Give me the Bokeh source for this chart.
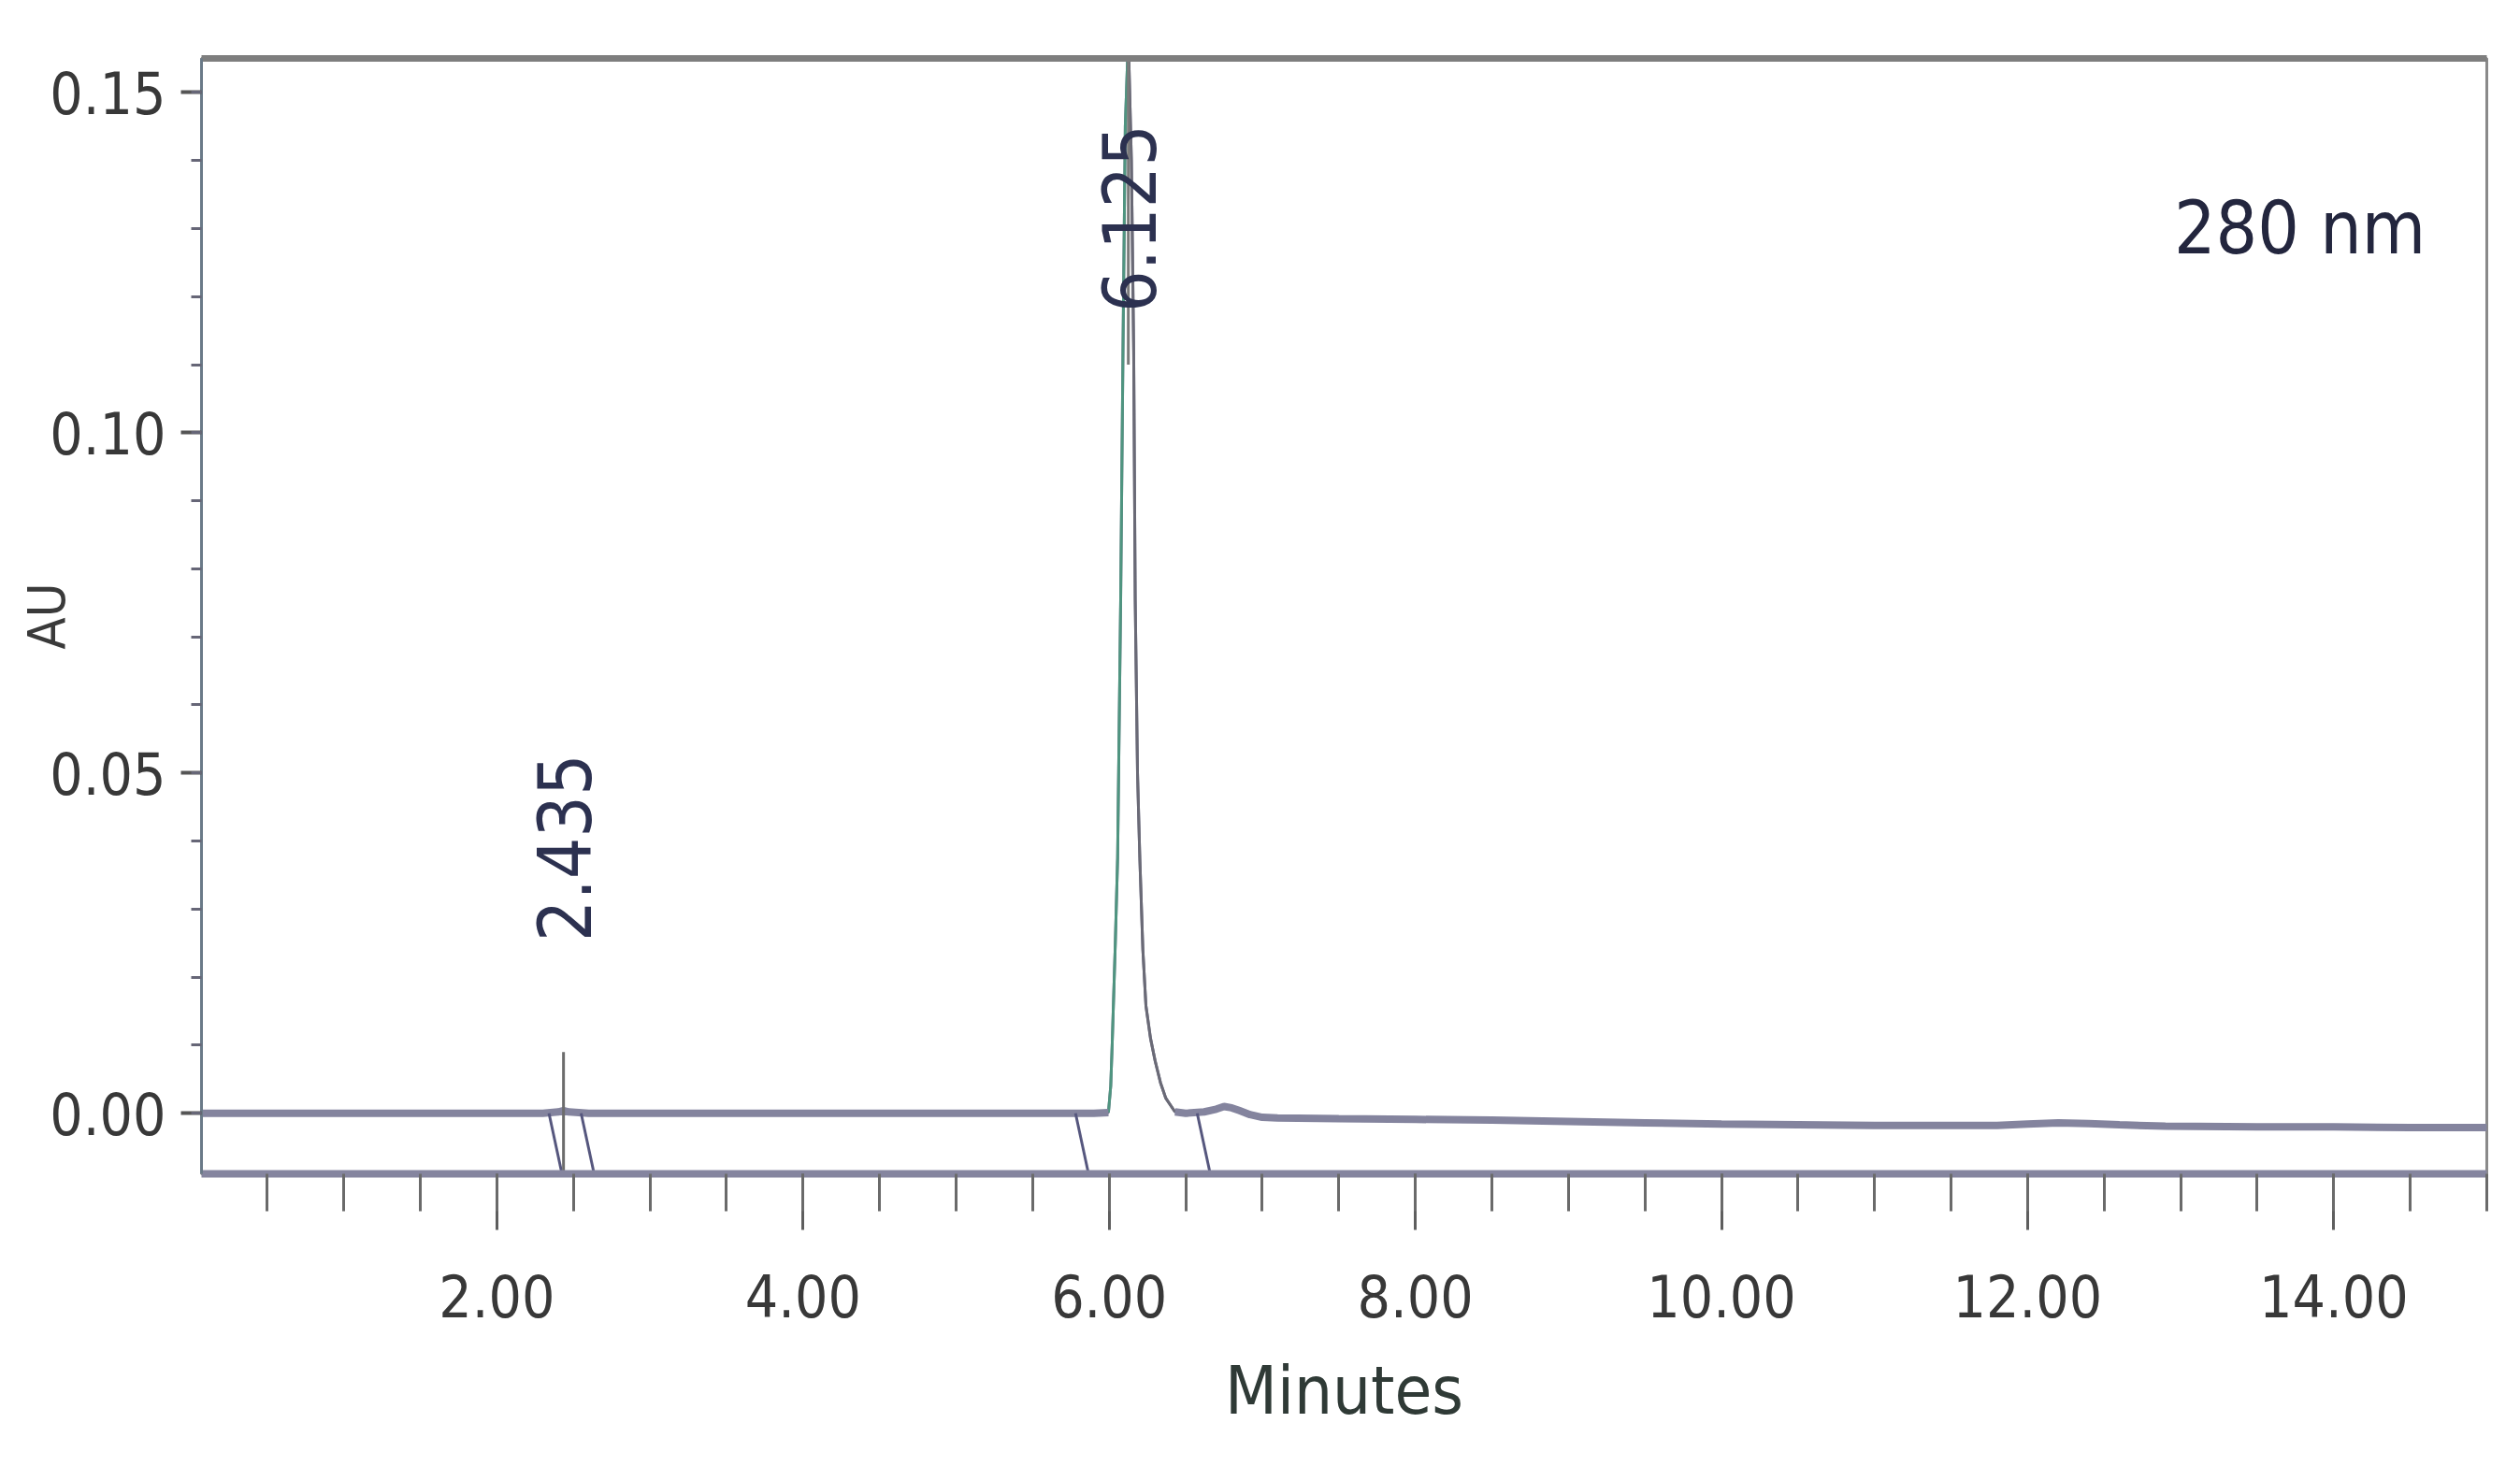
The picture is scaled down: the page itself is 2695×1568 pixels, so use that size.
import numpy as np
from bokeh.plotting import figure
from bokeh.models import Range1d, FixedTicker, NumeralTickFormatter, LinearAxis, Label
from bokeh.embed import file_html
from bokeh.resources import INLINE

# ---------------- data ----------------
time_min = [0.07, 0.50, 1.00, 1.50, 2.00, 2.30, 2.40, 2.435, 2.47, 2.60,
            3.00, 3.50, 4.00, 4.50, 5.00, 5.50, 5.90, 5.995, 6.010, 6.020,
            6.040, 6.055, 6.075, 6.090, 6.105, 6.125, 6.145, 6.160, 6.170, 6.185,
            6.200, 6.220, 6.240, 6.270, 6.300, 6.335, 6.370, 6.430, 6.500, 6.620,
            6.700, 6.750, 6.800, 6.850, 6.920, 7.000, 7.100, 7.500, 8.000, 8.500,
            9.000, 9.500, 10.00, 10.50, 11.00, 11.50, 11.80, 12.00, 12.20, 12.40,
            12.60, 12.90, 13.50, 14.00, 14.50, 15.00]
absorbance = [0.0000, 0.0000, 0.0000, 0.0000, 0.0000, 0.0000, 0.0002, 0.0004, 0.0002, 0.0000,
              0.0000, 0.0000, 0.0000, 0.0000, 0.0000, 0.0000, 0.0000, 0.0001, 0.0040, 0.0104,
              0.0250, 0.0375, 0.0755, 0.1120, 0.1450, 0.1580, 0.1400, 0.1120, 0.0755, 0.0500,
              0.0375, 0.0240, 0.0158, 0.0110, 0.0077, 0.0045, 0.0022, 0.0002, 0.0000, 0.0002,
              0.0006, 0.0010, 0.0008, 0.0004, -0.0002, -0.0006, -0.0007, -0.0008, -0.0009, -0.0010,
              -0.0012, -0.0014, -0.0016, -0.0017, -0.0018, -0.0018, -0.0018, -0.0016, -0.0014, -0.0015,
              -0.0017, -0.0019, -0.0020, -0.0020, -0.0021, -0.0021]

peak_rt = [2.435, 6.125]
peak_names = ["2.435", "6.125"]
peak_start = [2.34, 5.78]
peak_end = [2.55, 6.575]
peak_rise = [5.995, 6.125]
peak_fall = [6.125, 6.43]

x_major = [2, 4, 6, 8, 10, 12, 14]
x_minor = [0.5, 1, 1.5, 2, 2.5, 3, 3.5, 4, 4.5, 5, 5.5, 6, 6.5, 7, 7.5, 8, 8.5, 9, 9.5,
           10, 10.5, 11, 11.5, 12, 12.5, 13, 13.5, 14, 14.5, 15]
y_major = [0.00, 0.05, 0.10, 0.15]
y_minor = [0.00, 0.01, 0.02, 0.03, 0.04, 0.05, 0.06, 0.07, 0.08, 0.09, 0.10,
           0.11, 0.12, 0.13, 0.14, 0.15]

wavelength = "280 nm"

# ---------------- figure ----------------
FONT = "DejaVu Sans Condensed"
X0, X1 = 0.07, 15.0
Y0, Y1 = -0.0089, 0.155

p = figure(width=2679, height=1552, output_backend="svg", toolbar_location=None,
           x_range=Range1d(X0, X1), y_range=Range1d(Y0, Y1),
           min_border_left=215, min_border_right=20, min_border_top=62,
           min_border_bottom=297, background_fill_color="white",
           border_fill_color="white")
p.grid.visible = False
p.outline_line_color = "#8a8a8a"
p.outline_line_width = 3

t = np.array(time_min)
a = np.array(absorbance)

# whole trace
p.line(t, a, line_color="#74748c", line_width=3)
# rising / falling edges of the main peak
m_r = (t >= peak_rise[0]) & (t <= peak_rise[1])
m_f = (t >= peak_fall[0]) & (t <= peak_fall[1])
p.line(t[m_r], a[m_r], line_color="#4f9580", line_width=3)
p.line(t[m_f], a[m_f], line_color="#6a6a76", line_width=3)
# thick baseline portions
m_l = t <= peak_rise[0]
m_rr = t >= peak_fall[1]
p.multi_line([list(t[m_l]), list(t[m_rr])], [list(a[m_l]), list(a[m_rr])],
             line_color="#84849e", line_width=8)

# integration start/end marks (slanted drop lines)
slant = 0.085
xs0 = peak_start + peak_end
p.segment(x0=xs0, y0=[0.0] * len(xs0), x1=[v + slant for v in xs0], y1=[Y0] * len(xs0),
          line_color="#56577e", line_width=3)

# peak marker lines
p.segment(x0=[peak_rt[0]], y0=[0.009], x1=[peak_rt[0]], y1=[Y0],
          line_color="#6c6c6c", line_width=3)
p.segment(x0=[peak_rt[1]], y0=[0.11], x1=[peak_rt[1]], y1=[Y1],
          line_color="#7a7a7a", line_width=3)

# peak labels (rotated)
for rt, name, ly in zip(peak_rt, peak_names, [0.039, 0.1315]):
    p.add_layout(Label(x=rt, y=ly, text=name, angle=np.pi / 2, text_align="center",
                       text_baseline="middle", text_font=FONT, text_font_size="78px",
                       text_color="#2c3150"))

p.add_layout(Label(x=14.60, y=0.130, text=wavelength, text_align="right",
                   text_baseline="alphabetic", text_font=FONT, text_font_size="78px",
                   text_color="#23263e"))

# ---------------- axes ----------------
xa = p.xaxis[0]
xa.ticker = FixedTicker(ticks=x_major, minor_ticks=x_minor)
xa.formatter = NumeralTickFormatter(format="0.00")
xa.axis_line_color = "#85859f"
xa.axis_line_width = 8
xa.major_tick_out = 60
xa.major_tick_in = 0
xa.minor_tick_out = 40
xa.minor_tick_in = 0
xa.major_tick_line_color = "#5e5e5e"
xa.major_tick_line_width = 3
xa.minor_tick_line_color = "#6a6a6a"
xa.minor_tick_line_width = 3
xa.major_label_standoff = 47
xa.major_label_text_font = FONT
xa.major_label_text_font_size = "62px"
xa.major_label_text_color = "#383838"
xa.axis_label = "Minutes"
xa.axis_label_text_font = FONT
xa.axis_label_text_font_size = "72px"
xa.axis_label_text_font_style = "normal"
xa.axis_label_text_color = "#2f3a36"
xa.axis_label_standoff = 33

ya = p.yaxis[0]
ya.ticker = FixedTicker(ticks=y_major, minor_ticks=y_minor)
ya.formatter = NumeralTickFormatter(format="0.00")
ya.axis_line_color = "#6a7a88"
ya.axis_line_width = 3
ya.major_tick_out = 22
ya.major_tick_in = 0
ya.minor_tick_out = 11
ya.minor_tick_in = 0
ya.major_tick_line_color = "#555555"
ya.major_tick_line_width = 4
ya.minor_tick_line_color = "#666677"
ya.minor_tick_line_width = 3
ya.major_label_standoff = 16
ya.major_label_text_font = FONT
ya.major_label_text_font_size = "62px"
ya.major_label_text_color = "#383838"
ya.axis_label = "AU"
ya.axis_label_text_font = FONT
ya.axis_label_text_font_size = "56px"
ya.axis_label_text_font_style = "normal"
ya.axis_label_text_color = "#3a3a3a"
ya.axis_label_standoff = -32

top = LinearAxis(ticker=FixedTicker(ticks=[]), axis_line_color="#7e7e7e", axis_line_width=7,
                 major_tick_line_color=None, minor_tick_line_color=None,
                 major_label_text_font_size="0px")
p.add_layout(top, "above")

open("out.html", "w").write(file_html(p, INLINE))
